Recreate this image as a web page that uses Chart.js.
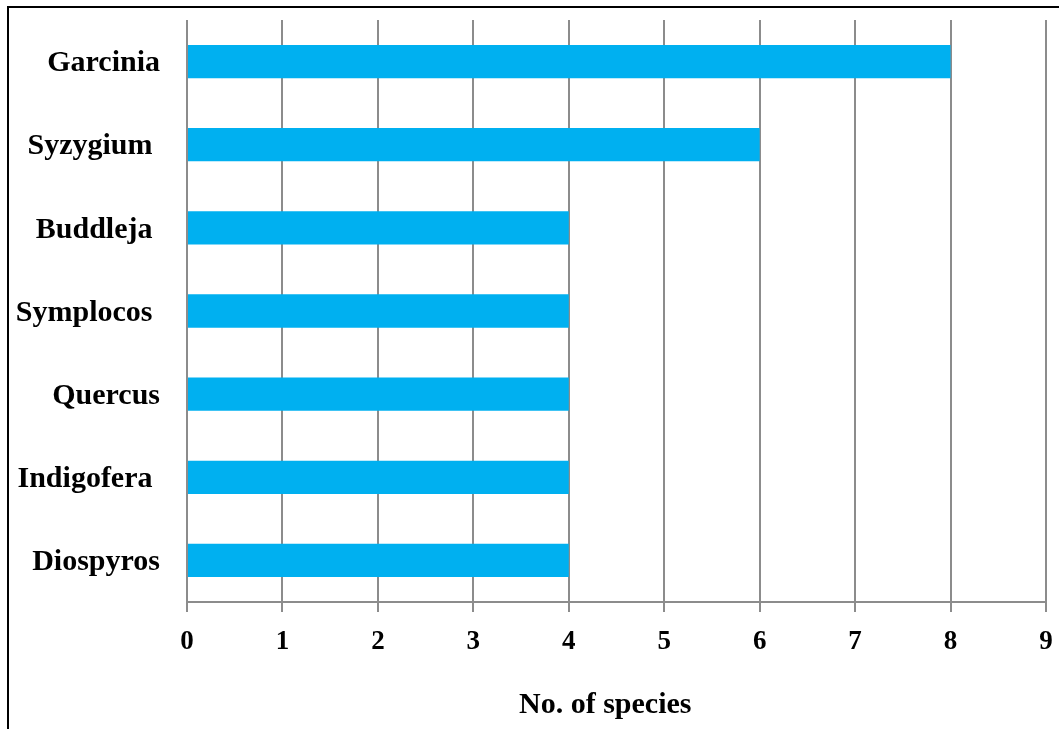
<!DOCTYPE html>
<html>
<head>
<meta charset="utf-8">
<script src="https://cdn.jsdelivr.net/npm/chart.js@4/dist/chart.umd.min.js"></script>
<style>
  html, body { margin: 0; padding: 0; background: #fff; }
  #wrap { position: relative; width: 1059px; height: 729px; }
</style>
</head>
<body>
<div id="wrap"><canvas id="chart" width="1059" height="729"></canvas></div>
<script>
// Genera and their number of species
const genera = ['Garcinia', 'Syzygium ', 'Buddleja ', 'Symplocos ', 'Quercus', 'Indigofera ', 'Diospyros'];
const speciesCounts = [8, 6, 4, 4, 4, 4, 4];
const axisMin = 0;
const axisMax = 9;
const axisTitle = 'No. of species   ';

const serif = '"Liberation Serif", "Times New Roman", serif';

// White background plus the thin black frame on the top and left edges
const framePlugin = {
  id: 'frame',
  beforeDraw(chart) {
    const ctx = chart.ctx;
    ctx.save();
    ctx.fillStyle = '#ffffff';
    ctx.fillRect(0, 0, chart.width, chart.height);
    ctx.restore();
  },
  afterDraw(chart) {
    const ctx = chart.ctx;
    ctx.save();
    ctx.strokeStyle = '#000000';
    ctx.lineWidth = 2;
    ctx.beginPath();
    ctx.moveTo(8, chart.height);
    ctx.lineTo(8, 7);
    ctx.lineTo(chart.width, 7);
    ctx.stroke();
    ctx.restore();
  }
};

new Chart(document.getElementById('chart'), {
  type: 'bar',
  data: {
    labels: genera,
    datasets: [{
      data: speciesCounts,
      backgroundColor: '#00B0F0',
      borderWidth: 0,
      categoryPercentage: 1.0,
      barPercentage: 0.4
    }]
  },
  options: {
    indexAxis: 'y',
    responsive: false,
    animation: false,
    layout: { padding: { top: 20, right: 13, left: 0, bottom: 0 } },
    plugins: {
      legend: { display: false },
      tooltip: { enabled: false }
    },
    scales: {
      x: {
        min: axisMin,
        max: axisMax,
        ticks: {
          stepSize: 1,
          color: '#000',
          padding: 14,
          font: { family: serif, size: 27, weight: 'bold' }
        },
        grid: {
          color: '#8c8c8c',
          lineWidth: 2,
          tickLength: 10,
          drawOnChartArea: true
        },
        border: { display: true, color: '#8c8c8c', width: 2 },
        title: {
          display: true,
          text: axisTitle,
          color: '#000',
          padding: { top: 0, bottom: 6 },
          font: { family: serif, size: 30, weight: 'bold' }
        },
        afterFit(scale) {
          scale.height = 127;
          scale.paddingLeft = 0;
          scale.paddingRight = 0;
        }
      },
      y: {
        ticks: {
          color: '#000',
          padding: 27,
          labelOffset: 2,
          font: { family: serif, size: 30, weight: 'bold' }
        },
        grid: { display: false, drawTicks: false },
        border: { display: false },
        afterFit(scale) {
          scale.width = 187;
          scale.paddingTop = 0;
          scale.paddingBottom = 0;
        }
      }
    }
  },
  plugins: [framePlugin]
});
</script>
</body>
</html>
